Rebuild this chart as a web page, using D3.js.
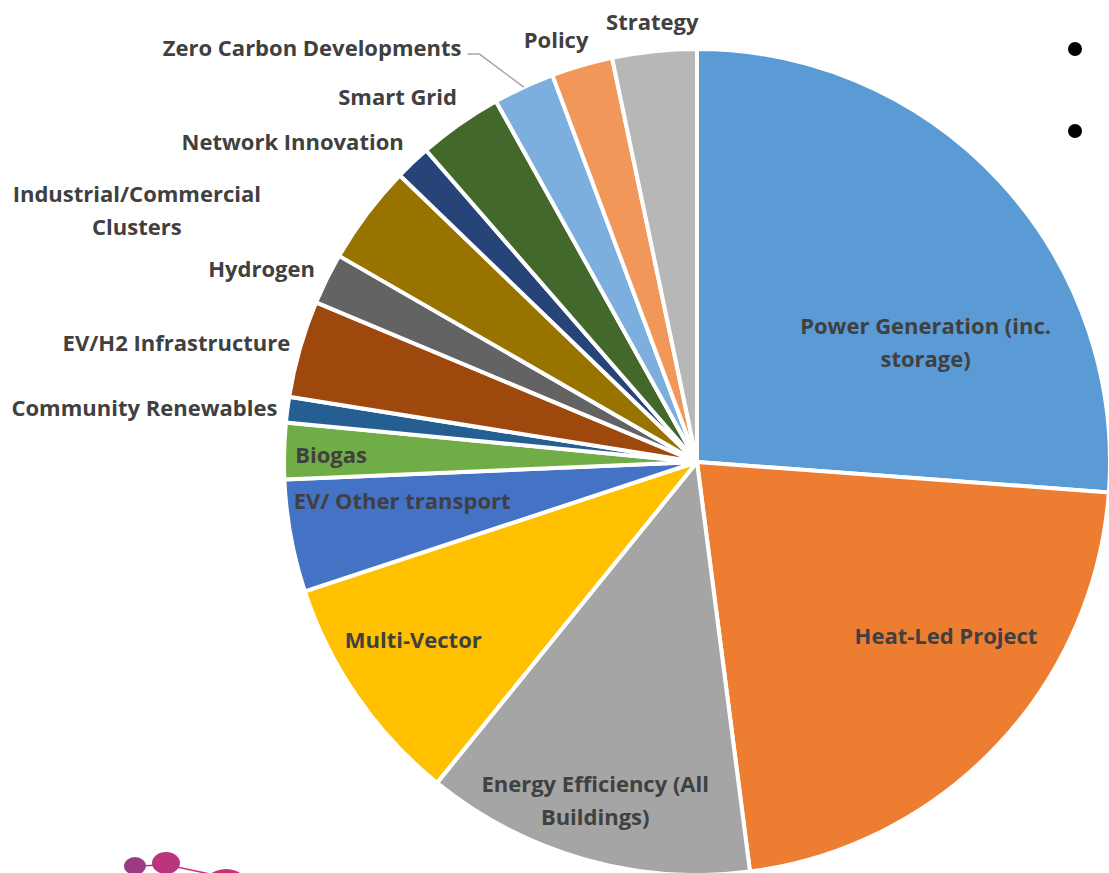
<!DOCTYPE html>
<html>
<head>
<meta charset="utf-8">
<script src="https://cdn.jsdelivr.net/npm/d3@7"></script>
<style>
  body { margin: 0; background: #fff; }
  text { font-family: "Open Sans", Lato, sans-serif; font-weight: bold; fill: #404040; }
</style>
</head>
<body>
<div id="chart"></div>
<script>
const width = 1109,
    height = 873

var categories = ["Power Generation (inc. storage)", "Heat-Led Project", "Energy Efficiency (All Buildings)",
    "Multi-Vector", "EV/ Other transport", "Biogas", "Community Renewables", "EV/H2 Infrastructure",
    "Hydrogen", "Industrial/Commercial Clusters", "Network Innovation", "Smart Grid",
    "Zero Carbon Developments", "Policy", "Strategy"]

var values = [26.2, 21.8, 12.9, 9.1, 4.4, 2.2, 1.0, 3.8, 2.0, 3.9, 1.4, 3.3, 2.4, 2.4, 3.3]

var colors = ["#5B9BD5", "#ED7D31", "#A5A5A5", "#FFC000", "#4472C4", "#70AD47", "#255E91", "#9E480E",
    "#636363", "#997300", "#264478", "#43682B", "#7CAFDD", "#F1975A", "#B7B7B7"]

// how each label is broken into lines
var labelLines = [["Power Generation (inc.", "storage)"], ["Heat-Led Project"], ["Energy Efficiency (All", "Buildings)"],
    ["Multi-Vector"], ["EV/ Other transport"], ["Biogas"], ["Community Renewables"], ["EV/H2 Infrastructure"],
    ["Hydrogen"], ["Industrial/Commercial", "Clusters"], ["Network Innovation"], ["Smart Grid"],
    ["Zero Carbon Developments"], ["Policy"], ["Strategy"]]

// label placement: inside or outside, plus a nudge from the default spot
var labelLayout = {
    "Power Generation (inc. storage)": {inside: true, dx: 41, dy: 55},
    "Heat-Led Project": {inside: true, dx: 63, dy: -2},
    "Energy Efficiency (All Buildings)": {inside: true, dx: -32, dy: 92},
    "Multi-Vector": {inside: true, dx: -73, dy: 33},
    "EV/ Other transport": {inside: true, dx: -43, dy: -7},
    "Biogas": {inside: true, dx: -110, dy: 0},
    "Community Renewables": {dx: 0, dy: 0},
    "EV/H2 Infrastructure": {dx: 0, dy: -3},
    "Hydrogen": {dx: -3, dy: -5},
    "Industrial/Commercial Clusters": {dx: -98, dy: 3},
    "Network Innovation": {dx: -2, dy: -13},
    "Smart Grid": {dx: 3, dy: -18},
    "Zero Carbon Developments": {dx: -58, dy: -30, leader: true},
    "Policy": {dx: -23, dy: -15, middle: true},
    "Strategy": {dx: -1, dy: -19, middle: true}
}

var cx = 697, cy = 462, radius = 413
var lineHeight = 33

var svg = d3.select("#chart")
    .append("svg")
    .attr("width", width)
    .attr("height", height)

var data = categories.map((c, i) => ({name: c, value: values[i], color: colors[i], lines: labelLines[i]}))

var pie = d3.pie()
    .sort(null)
    .value(d => d.value)

var arc = d3.arc()
    .innerRadius(0)
    .outerRadius(radius)

var arcs = pie(data)

var g = svg.append("g")
    .attr("transform", `translate(${cx},${cy})`)

g.append("g")
    .selectAll("path")
    .data(arcs)
    .enter()
    .append("path")
    .attr("d", arc)
    .attr("fill", d => d.data.color)
    .attr("stroke", "#fff")
    .attr("stroke-width", 4)
    .attr("stroke-linejoin", "round")

function polar(a, r) {
    return [r * Math.sin(a), -r * Math.cos(a)]
}

var labels = g.append("g")
    .selectAll("g")
    .data(arcs)
    .enter()
    .append("g")

labels.each(function (d) {
    var lay = labelLayout[d.data.name]
    var mid = (d.startAngle + d.endAngle) / 2
    var sel = d3.select(this)
    var n = d.data.lines.length

    var t = sel.append("text")
        .attr("font-size", 22)
        .attr("text-anchor", "middle")
    d.data.lines.forEach((line, i) => {
        t.append("tspan")
            .attr("x", 0)
            .attr("y", (i - (n - 1) / 2) * lineHeight)
            .attr("dy", "0.35em")
            .text(line)
    })

    var w = t.node().getBBox().width
    var p, x, y
    if (lay.inside) {
        p = polar(mid, radius * 0.62)
        x = p[0] + lay.dx
        y = p[1] + lay.dy
    } else {
        p = polar(mid, radius + 10)
        x = lay.middle ? p[0] + lay.dx : p[0] - w / 2 + lay.dx
        y = p[1] + lay.dy
    }
    t.attr("transform", `translate(${x},${y})`)

    if (lay.leader) {
        var e = polar(mid, radius)
        var right = x + w / 2
        sel.insert("polyline", "text")
            .attr("points", [[right + 6, y + 6], [right + 18, y + 6], e].map(q => q.join(",")).join(" "))
            .attr("fill", "none")
            .attr("stroke", "#A6A6A6")
            .attr("stroke-width", 1.5)
    }
})

// slide bullets on the right edge
svg.append("g")
    .selectAll("circle")
    .data([49, 131])
    .enter()
    .append("circle")
    .attr("cx", 1075)
    .attr("cy", d => d)
    .attr("r", 7)
    .attr("fill", "#000")

// logo fragment bottom-left
var logo = svg.append("g")
logo.append("line").attr("x1", 140).attr("y1", 866).attr("x2", 160).attr("y2", 865)
    .attr("stroke", "#B8357E").attr("stroke-width", 1.5)
logo.append("line").attr("x1", 172).attr("y1", 866).attr("x2", 210).attr("y2", 874)
    .attr("stroke", "#C2327A").attr("stroke-width", 1.5)
logo.append("ellipse").attr("cx", 135).attr("cy", 866).attr("rx", 11).attr("ry", 9).attr("fill", "#9C3B84")
logo.append("ellipse").attr("cx", 166).attr("cy", 863).attr("rx", 14).attr("ry", 11).attr("fill", "#BA357E")
logo.append("ellipse").attr("cx", 226).attr("cy", 892).attr("rx", 25).attr("ry", 23).attr("fill", "#CC2F6E")
</script>
</body>
</html>
